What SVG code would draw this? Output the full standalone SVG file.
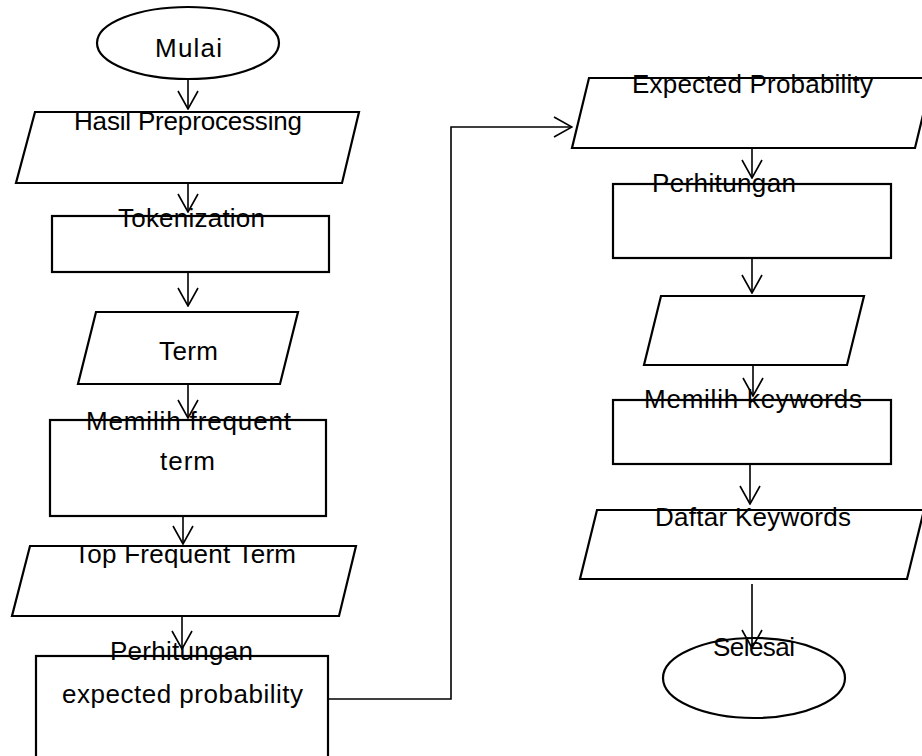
<svg xmlns="http://www.w3.org/2000/svg" width="922" height="756" viewBox="0 0 922 756">
<style>
.s{fill:#fff;stroke:#000;stroke-width:2.2}
.c{fill:none;stroke:#000;stroke-width:1.6}
text{font-family:"Liberation Sans",Arial,sans-serif;font-size:26px;fill:#000;text-anchor:middle}
</style>
<defs>
<marker id="a" markerUnits="userSpaceOnUse" viewBox="0 0 20 22" refX="19" refY="11" markerWidth="20" markerHeight="22" orient="auto">
<path d="M1,1 L19,11 L1,21" fill="none" stroke="#000" stroke-width="1.6"/>
</marker>
</defs>
<rect width="922" height="756" fill="#fff"/>
<g id="nodes">
<g id="mulai"><ellipse class="s" cx="188" cy="43" rx="91" ry="36"/><text x="188.5" y="57" textLength="67">Mulai</text></g>
<g id="hasil"><polygon class="s" points="35,112 359,112 342,183 16,183"/><text x="188" y="130" textLength="228">Hasil Preprocessing</text></g>
<g id="token"><rect class="s" x="52" y="216" width="277" height="56"/><text x="191.5" y="227" textLength="147">Tokenization</text></g>
<g id="term"><polygon class="s" points="96,312 298,312 280,384 78,384"/><text x="188.5" y="360" textLength="59">Term</text></g>
<g id="memilih"><rect class="s" x="50" y="420" width="276" height="96"/><text x="188.5" y="430" textLength="205">Memilih frequent</text><text x="187.5" y="470" textLength="55">term</text></g>
<g id="top"><polygon class="s" points="30,546 356,546 339,616 12,616"/><text x="185" y="563" textLength="222">Top Frequent Term</text></g>
<g id="hitung1"><rect class="s" x="36" y="656" width="292" height="110"/><text x="181.5" y="660" textLength="143">Perhitungan</text><text x="182.5" y="703" textLength="241">expected probability</text></g>
<g id="expected"><polygon class="s" points="589,78 932,78 915,148 572,148"/><text x="752.5" y="93" textLength="241">Expected Probability</text></g>
<g id="hitung2"><rect class="s" x="613" y="184" width="278" height="74"/><text x="724" y="192" textLength="144">Perhitungan</text></g>
<g id="kosong"><polygon class="s" points="661,296 864,296 847,365 644,365"/></g>
<g id="pilihkw"><rect class="s" x="613" y="400" width="278" height="64"/><text x="753" y="408" textLength="218">Memilih keywords</text></g>
<g id="daftar"><polygon class="s" points="597,510 924,510 907,579 580,579"/><text x="753" y="526" textLength="196">Daftar Keywords</text></g>
<g id="selesai"><ellipse class="s" cx="754" cy="678" rx="91" ry="40"/><text x="754" y="656" textLength="82">Selesai</text></g>
</g>
<g id="connectors">
<line class="c" x1="188" y1="79" x2="188" y2="109" marker-end="url(#a)"/>
<line class="c" x1="188" y1="183" x2="188" y2="212" marker-end="url(#a)"/>
<line class="c" x1="188" y1="272" x2="188" y2="306" marker-end="url(#a)"/>
<line class="c" x1="188" y1="384" x2="188" y2="418" marker-end="url(#a)"/>
<line class="c" x1="183" y1="516" x2="183" y2="544" marker-end="url(#a)"/>
<line class="c" x1="182" y1="616" x2="182" y2="649" marker-end="url(#a)"/>
<polyline class="c" points="328,699 451,699 451,127 572,127" marker-end="url(#a)"/>
<line class="c" x1="752" y1="148" x2="752" y2="178" marker-end="url(#a)"/>
<line class="c" x1="752" y1="258" x2="752" y2="293" marker-end="url(#a)"/>
<line class="c" x1="753" y1="365" x2="753" y2="396" marker-end="url(#a)"/>
<line class="c" x1="750" y1="464" x2="750" y2="504" marker-end="url(#a)"/>
<line class="c" x1="752" y1="584" x2="752" y2="648" marker-end="url(#a)"/>
</g>
</svg>
